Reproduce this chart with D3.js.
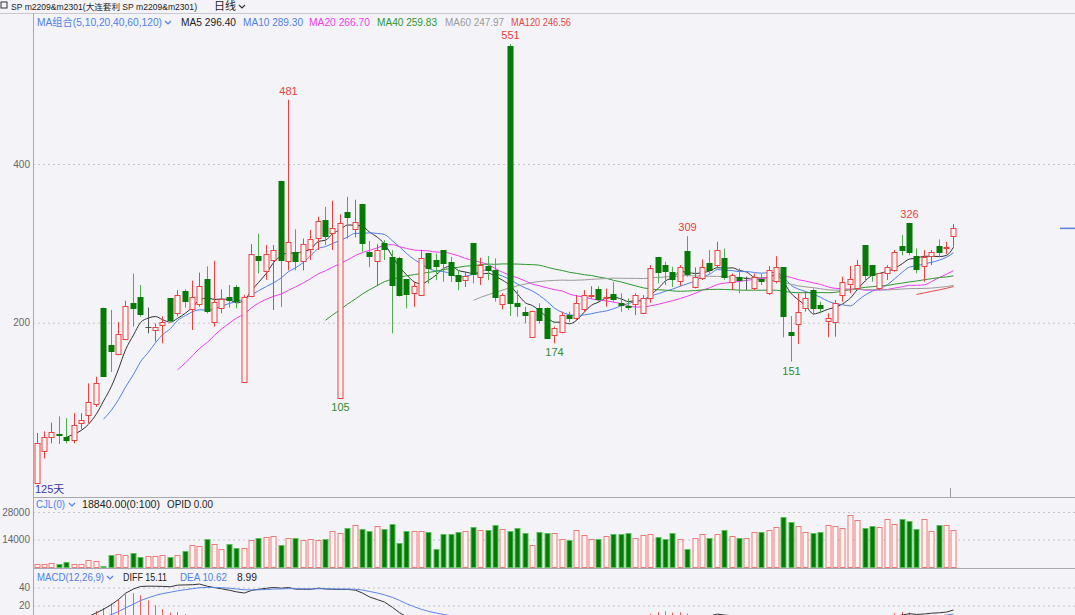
<!DOCTYPE html>
<html><head><meta charset="utf-8">
<script src="https://cdn.jsdelivr.net/npm/d3@7/dist/d3.min.js"></script>
<style>body{margin:0;background:#f4f4f8;}svg{display:block;}text{font-family:"Liberation Sans","Noto Sans CJK SC",sans-serif;}</style>
</head><body><svg id="c" width="1075" height="615"></svg>
<script>
// ---------- DATA ----------
const opens=[-2,37.5,55.5,60,56,52,73,83.7,98.4,219,171.9,160,180,224.4,232,194,191.6,197,230.7,212.6,
240,218,223.5,254.6,201,219,232,244.5,126,233,284,266,279,379,278,289.5,277,292,307.5,329,
313,105,340,317.6,350,289.5,278,300,283,281,254.6,237,235,288,279,291.5,277,260,254,300.8,
257,271,267,224,549,224.4,213.8,182.4,219,219,184.5,188.7,209.7,206.7,216.8,233,242,230.2,236,224.4,
221,223.5,211.8,230.6,283,272.6,264,251.7,290.7,245.4,257,274.8,272.6,282,251.7,258,256,244.5,255.7,237,
251.7,269.7,188.7,199.2,218,241.2,222.3,201.3,201.3,234.8,249.5,243.3,297.9,272.6,243.3,262.2,266.4,296.6,325.2,284,
271.4,284,296.6,294.9,308.4];
const highs=[61,63,74,82,79.5,86,86,123.6,132,219,216,201,227.7,262,247.5,219,199,208,231,241,
242,253,263,271,278,242,247.5,247.5,235,299,312,298,298,379,481,317.6,306,316.7,333.6,346,
353.7,336.6,358.7,355,350,303,299,304,291.6,283,254.6,251.6,292,288,287,291.5,283,266,264,300.8,
282,284,281,237,551,241,220,215,224.4,219,195,214,214,234.8,241,246,246,243,251.6,237,
230.6,237,234.8,272.6,283,276.8,270.5,272.6,309,269.7,279.8,291.6,302,293.5,262,268.5,258,262,262,271.4,
283.8,269.7,208.4,237,239,243.3,226.5,211.8,228.6,258,271.4,279,297.9,272.6,262.2,272.6,291.6,310.5,326,293.7,
291.6,291.6,305,302,324.4];
const lows=[-2,29,48,47,48,48,65.6,73,94,133,138,159,178,195,207.6,186.6,176,174,201,208,
219,190.8,220,211.8,195,211.8,219,218,126,232,262,254,216,220,266,266,266,279,291.6,298,
291.6,105,306,307.5,289.5,270,246,279,186.6,233,218,220,235,249.5,253.6,251.6,251.6,241,245,249.5,
247.5,253.6,226.6,216.8,208.4,207.6,199.2,182,199,181,174,186.6,201,203.4,213.8,230.6,226.5,220,226.5,213.8,
216,209.7,211.8,225,249.5,247.5,245,246,258,243.3,253.8,262,268.5,253.8,241,237,241,241,247.5,235,
249.5,181.6,151,173,214,209.7,211.8,181.6,182.4,226.5,237,241,251.7,251.7,241,253.8,264.3,285,285,262.2,
251.7,272.6,282.3,286.5,295.8];
const closes=[48,55.5,62,59,52.5,71,77.4,100.5,124.4,133,164.7,185.7,221,218,211,194,195,201,202.5,234.9,
227,232.8,246,214.7,226,229.8,227.7,226.5,233,286.5,279.5,287,292,279,302,278,299,305,328.5,309,
318.8,326,333.6,327,301,284,292,292,247.5,235,236,246,281,268.5,271.5,274.8,261,253,259,261.3,
272.6,265.5,233,235.5,225.5,221,210.5,215,203.4,181.5,193,209.7,205.5,225,234.8,234.8,229.4,231.9,230.2,222.3,
219.4,234.8,230.6,268.5,264,265.5,255.7,269.7,261.3,258,270.5,265.5,291.6,258,260,253.8,256,258,252.8,266.4,
269.7,207.6,185.4,214,230.6,218,218,205.5,225.2,251.7,255.7,272.6,260,260,262.2,269.7,289.5,291.6,288.2,267.2,
282.3,289.5,289.5,295.7,318.9];
const volumes=[1330,1330,1830,1330,2330,1330,1330,3330,3000,330,6000,6500,6000,7330,5170,5830,5500,6000,5170,6330,
8330,11000,10670,14170,11500,9330,11830,9670,9670,13500,15000,15300,15830,11330,14830,14830,13830,14170,13830,14500,
18170,17170,19830,21330,19330,18500,20830,19500,21670,12170,18170,18170,18170,17670,9330,16830,16830,17670,18330,20330,
18830,19000,21500,19330,18500,19830,17170,11000,17670,17170,17170,14500,14000,18670,16330,14170,14500,15830,16670,16670,
17170,14830,16330,17000,15330,14170,17170,14330,9170,14830,17000,15000,16670,19000,16000,14670,14830,17670,17670,19000,
20330,25670,22670,20830,17670,17170,17670,21500,20830,19830,26500,24000,19830,20670,20330,24670,22000,24330,23330,19330,
24670,18170,21170,21170,18840];
const priceTicks=[200,400];
const volTicks=[14000,28000];
const macdTicks=[20,40];
const maPeriods=[5,10,20,40,60,120];
const maLabels=["MA5 296.40","MA10 289.30","MA20 266.70","MA40 259.83","MA60 247.97","MA120 246.56"];
const highMarks=[34,64,88,118];
const lowMarks=[41,70,102];
const titleText="SP m2209&m2301(大连套利 SP m2209&m2301)";
const periodText="日线";
const maGroupText="MA组合(5,10,20,40,60,120)";
const volHeader=["CJL(0)","18840.00(0:100)","OPID 0.00"];
const macdHeader=["MACD(12,26,9)","DIFF 15.11","DEA 10.62","8.99"];
const daysText="125天";

// ---------- SETUP ----------
const svg=d3.select('#c');
const N=closes.length;
const L=33,R=1075;
const x=d3.scaleBand().domain(d3.range(N)).range([L,957]);
const cx=i=>Math.round(x(i)+x.bandwidth()/2)+0.5;
const y=d3.scaleLinear().domain([200,400]).range([322.7,164]);
const vy=d3.scaleLinear().domain([0,28000]).range([567,512]);
const my=d3.scaleLinear().domain([20,40]).range([605.5,587.5]);

const RED="#ee4040", REDF="#fff6f6", GRN="#067a06", GRNW="#4cae4c";
const maColors=["#333333","#4f7fe6","#ee3cee","#2f962f","#9a9a9a","#e84646"];

svg.append('rect').attr('width',1075).attr('height',615).attr('fill','#f4f4f8');
const defs=svg.append('defs');
function clip(id,y0,y1){defs.append('clipPath').attr('id',id).append('rect').attr('x',L+1).attr('y',y0).attr('width',R-L).attr('height',y1-y0);return `url(#${id})`;}
const cMain=clip('cm',14,497), cVol=clip('cv',498,568), cMacd=clip('cd',569,615);

// grid axes
function gridAxis(scale,ticks,fmt){
  const g=svg.append('g').attr('transform',`translate(${L},0)`)
   .call(d3.axisLeft(scale).tickValues(ticks).tickSize(-(R-L)).tickPadding(3).tickFormat(fmt));
  g.select('.domain').remove();
  g.selectAll('.tick line').attr('stroke','#c4c4cc').attr('stroke-dasharray','2,3');
  g.selectAll('.tick text').attr('fill','#666').style('font-size','10px').style('font-family','"Liberation Sans",sans-serif');
}
gridAxis(y,priceTicks,d3.format('d'));
gridAxis(vy,volTicks,d3.format('d'));
gridAxis(my,macdTicks,d3.format('d'));

// frame lines
svg.append('line').attr('x1',0).attr('x2',R).attr('y1',13.5).attr('y2',13.5).attr('stroke','#c8c8d0');
svg.append('line').attr('x1',L+0.5).attr('x2',L+0.5).attr('y1',13).attr('y2',615).attr('stroke','#a8a8b0');
svg.append('line').attr('x1',L).attr('x2',R).attr('y1',497.5).attr('y2',497.5).attr('stroke','#a8a8b0');
svg.append('line').attr('x1',L).attr('x2',R).attr('y1',568.5).attr('y2',568.5).attr('stroke','#a8a8b0');
svg.append('line').attr('x1',950.5).attr('x2',950.5).attr('y1',488).attr('y2',497).attr('stroke','#999');

// ---------- MAs ----------
const gMain=svg.append('g').attr('clip-path',cMain);
maPeriods.forEach((p,k)=>{
  const pts=[];
  for(let i=p-1;i<N;i++){pts.push([i,d3.mean(closes.slice(i-p+1,i+1))]);}
  gMain.append('path').datum(pts).attr('fill','none').attr('stroke',maColors[k]).attr('stroke-width',1)
   .attr('d',d3.line().x(d=>cx(d[0])).y(d=>y(d[1])).curve(d3.curveMonotoneX));
});

// ---------- CANDLES ----------
const data=d3.range(N).map(i=>({i,o:opens[i],h:highs[i],l:lows[i],c:closes[i],v:volumes[i]}));
const col=d=>d.c>d.o?'up':(d.c<d.o?'dn':'eq');
const cg=gMain.selectAll('g.cd').data(data).join('g');
cg.append('line').attr('x1',d=>cx(d.i)).attr('x2',d=>cx(d.i)).attr('y1',d=>y(d.h)).attr('y2',d=>y(d.l))
  .attr('stroke',d=>col(d)==='up'?RED:col(d)==='dn'?GRNW:'#555');
cg.append('rect').attr('x',d=>cx(d.i)-2.5).attr('width',5)
  .attr('y',d=>Math.round(y(Math.max(d.o,d.c)))+0.5)
  .attr('height',d=>Math.max(0.01,Math.round(Math.abs(y(d.o)-y(d.c)))))
  .attr('fill',d=>col(d)==='up'?REDF:col(d)==='dn'?GRN:'#555')
  .attr('stroke',d=>col(d)==='up'?RED:col(d)==='dn'?GRN:'#555');

// extreme labels
highMarks.forEach(i=>{svg.append('text').attr('x',cx(i)).attr('y',y(highs[i])-5).attr('text-anchor','middle')
  .attr('fill','#e84040').style('font-size','11px').text(d3.format('d')(Math.round(highs[i])));});
lowMarks.forEach(i=>{svg.append('text').attr('x',cx(i)).attr('y',y(lows[i])+13).attr('text-anchor','middle')
  .attr('fill','#2e8b2e').style('font-size','11px').text(d3.format('d')(Math.round(lows[i])));});

// last price marker
svg.append('line').attr('x1',1060).attr('x2',R).attr('y1',y(closes[N-1])).attr('y2',y(closes[N-1])).attr('stroke','#5a7fe0').attr('stroke-width',1.5);

// ---------- VOLUME ----------
const gVol=svg.append('g').attr('clip-path',cVol);
gVol.selectAll('rect').data(data).join('rect')
  .attr('x',d=>cx(d.i)-2.5).attr('width',5)
  .attr('y',d=>Math.round(vy(d.v))+0.5).attr('height',d=>Math.max(0,vy(0)-Math.round(vy(d.v))))
  .attr('fill',d=>col(d)==='dn'?GRN:REDF).attr('stroke',d=>col(d)==='dn'?'#58c058':'#f07878');

// ---------- MACD ----------
const dif=[],dea=[],bar=[];
let e12=closes[0],e26=closes[0],de=0;
closes.forEach((c,i)=>{
  if(i>0){e12=(2*c+11*e12)/13;e26=(2*c+25*e26)/27;}
  const df=e12-e26; de=i>0?(2*df+8*de)/10:df;
  dif.push(df);dea.push(de);bar.push(2*(df-de));
});
const gM=svg.append('g').attr('clip-path',cMacd);
gM.selectAll('line').data(bar).join('line').attr('x1',(d,i)=>cx(i)).attr('x2',(d,i)=>cx(i))
  .attr('y1',my(0)).attr('y2',d=>my(d)).attr('stroke',d=>d>=0?'#f06060':'#2a9a2a');
gM.append('path').datum(dif).attr('fill','none').attr('stroke','#333').attr('d',d3.line().x((d,i)=>cx(i)).y(d=>my(d)));
gM.append('path').datum(dea).attr('fill','none').attr('stroke','#5a84e6').attr('d',d3.line().x((d,i)=>cx(i)).y(d=>my(d)));

// ---------- TEXT ----------
function chev(x0,y0,c){svg.append('path').attr('d',`M${x0},${y0}l3,3l3,-3`).attr('fill','none').attr('stroke',c).attr('stroke-width',1.2);}
function txt(t,x0,y0,fill,size,len){
  const e=svg.append('text').attr('x',x0).attr('y',y0).attr('fill',fill).style('font-size',size+'px').text(t);
  if(len) e.attr('textLength',len).attr('lengthAdjust','spacingAndGlyphs');
  return e;
}
svg.append('rect').attr('x',1).attr('y',2).attr('width',6).attr('height',6).attr('fill','none').attr('stroke','#333');
txt(titleText,11,10,'#222',8.5,186);
txt(periodText,214,10,'#222',11,22);
chev(239,5,'#333');

txt(maGroupText,37,26,'#4f7fe6',10.5,125);
chev(165,21,'#4f7fe6');
const maX=[181,243,309,377,445,511], maW=[55,60,61,60,59,60];
maLabels.forEach((t,k)=>txt(t,maX[k],26,k===0?'#222':maColors[k],10.5,maW[k]));

txt(volHeader[0],36,508,'#4f7fe6',11,29);
chev(69,503,'#4f7fe6');
txt(volHeader[1],82,508,'#222',11,78);
txt(volHeader[2],167,508,'#222',11,46);

txt(macdHeader[0],37,581,'#4f7fe6',11,67);
chev(107,576,'#4f7fe6');
txt(macdHeader[1],123,581,'#222',11,44);
txt(macdHeader[2],180,581,'#4f7fe6',11,47);
txt(macdHeader[3],237,581,'#222',11,20);

txt(daysText,35,493,'#3a3aa8',11);
</script></body></html>
